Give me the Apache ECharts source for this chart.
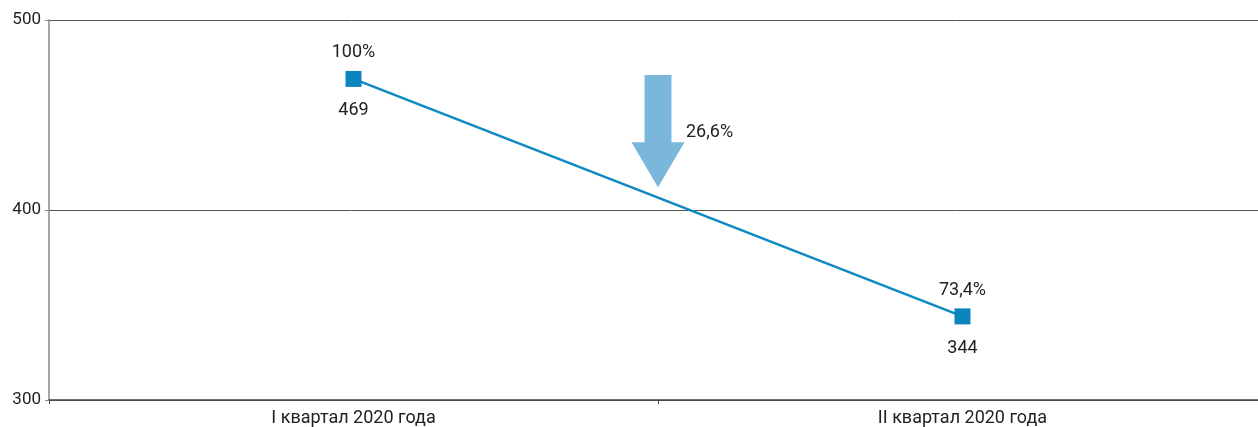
<!DOCTYPE html>
<html><head><meta charset="utf-8">
<script src="https://cdn.jsdelivr.net/npm/echarts@6/dist/echarts.min.js"></script>
<style>html,body{margin:0;padding:0;background:#fff}#c{width:1258px;height:427px}</style>
</head><body><div id="c"></div>
<script>
var categories = ['I квартал 2020 года', 'II квартал 2020 года'];
var values = [469, 344];
var percents = ['100%', '73,4%'];
var changeLabel = '26,6%';
var arrowRange = [471, 412];
var yTicks = [300, 400, 500];

var chart = echarts.init(document.getElementById('c'));
var font = 'Roboto, "Noto Sans", sans-serif';
chart.setOption({
  animation: false,
  grid: {left: 49, width: 1218, top: 20, bottom: 27, outerBoundsMode: 'none', containLabel: false},
  xAxis: {
    type: 'category', data: categories, boundaryGap: true,
    axisLine: {lineStyle: {color: '#444', width: 1.5}},
    axisTick: {show: true, length: 4, lineStyle: {color: '#444'}},
    axisLabel: {color: '#222', fontSize: 18, fontFamily: font, margin: 9}
  },
  yAxis: {
    type: 'value', min: yTicks[0], max: yTicks[yTicks.length - 1], interval: 100,
    axisLine: {show: true, lineStyle: {color: '#888', width: 1.5}},
    axisTick: {show: true, length: 4, lineStyle: {color: '#888'}},
    axisLabel: {color: '#222', fontSize: 17, fontFamily: font, margin: 8},
    splitLine: {lineStyle: {color: '#555', width: 1}}
  },
  series: [{
    type: 'line', data: values, symbol: 'rect', symbolSize: 16,
    lineStyle: {color: '#0d8ac4', width: 2.5},
    itemStyle: {color: '#0c84bd'},
    label: {show: true, position: 'bottom', distance: 15, color: '#222', fontSize: 18, fontFamily: font}
  }, {
    type: 'scatter', data: values, symbol: 'rect', symbolSize: 16,
    itemStyle: {color: 'rgba(0,0,0,0)', opacity: 1}, silent: true, z: 1,
    label: {show: true, position: 'top', distance: 9, color: '#222', fontSize: 18, fontFamily: font,
      formatter: function (p) { return percents[p.dataIndex]; }}
  }]
});

function drawArrow() {
  var p0 = chart.convertToPixel({gridIndex: 0}, [0, arrowRange[0]]);
  var p1 = chart.convertToPixel({gridIndex: 0}, [1, arrowRange[1]]);
  var cx = (p0[0] + p1[0]) / 2;
  var top = p0[1], bot = p1[1];
  var h = bot - top;
  var headTop = top + h * 0.6;
  var sw = 13.5, hw = 26.5;
  chart.setOption({graphic: [{
    type: 'polygon',
    shape: {points: [[cx - sw, top], [cx + sw, top], [cx + sw, headTop], [cx + hw, headTop], [cx, bot], [cx - hw, headTop], [cx - sw, headTop]]},
    style: {fill: '#7ab7da'}, z: 10
  }, {
    type: 'text', x: cx + 28, y: top + h * 0.5 + 1,
    style: {text: changeLabel, fill: '#222', font: '18px ' + font, textVerticalAlign: 'middle'}, z: 11
  }]});
}
drawArrow();
</script></body></html>
